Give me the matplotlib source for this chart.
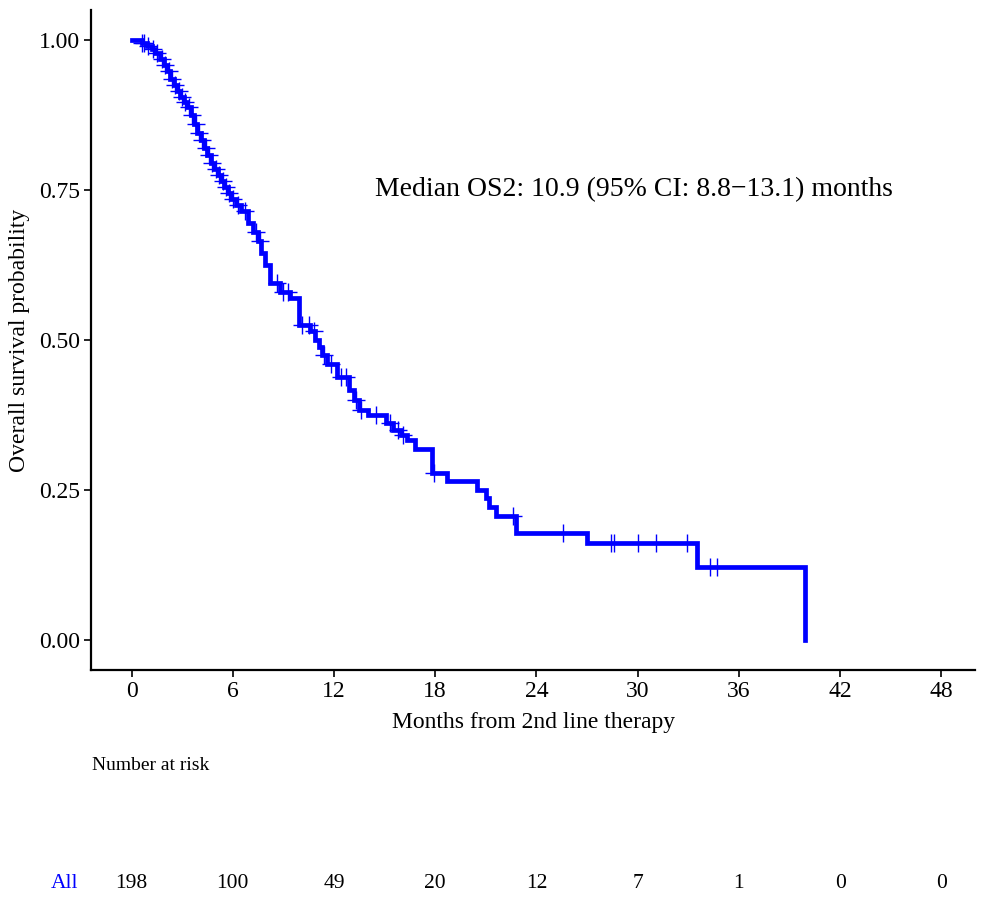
import numpy as np
import matplotlib
matplotlib.use('Agg')
import matplotlib.pyplot as plt

plt.rcParams['font.family'] = ['Liberation Serif', 'DejaVu Serif']

# Kaplan-Meier steps: time of drop, survival after drop
event_times = [0.0, 0.6, 0.9, 1.2, 1.4, 1.7, 1.9, 2.1, 2.3, 2.5, 2.7, 2.9, 3.1, 3.3,
               3.5, 3.7, 3.9, 4.1, 4.3, 4.5, 4.7, 4.9, 5.1, 5.3, 5.5, 5.7, 5.9,
               6.2, 6.5, 6.9, 7.2, 7.5, 7.7, 7.9, 8.2, 8.8, 9.4, 9.9, 10.6, 10.9,
               11.1, 11.3, 11.6, 12.2, 12.9, 13.2, 13.5, 14.0, 15.1, 15.5, 16.0,
               16.3, 16.8, 17.8, 18.7, 20.5, 21.0, 21.2, 21.6, 22.8, 27.0, 33.5,
               39.9]
survival = [1.0, 0.995, 0.99, 0.985, 0.978, 0.968, 0.958, 0.948, 0.935, 0.925, 0.915,
            0.905, 0.897, 0.888, 0.875, 0.86, 0.845, 0.833, 0.82, 0.808, 0.795,
            0.785, 0.775, 0.765, 0.755, 0.745, 0.735, 0.725, 0.715, 0.695, 0.68,
            0.665, 0.645, 0.625, 0.595, 0.58, 0.57, 0.525, 0.515, 0.5, 0.488,
            0.475, 0.46, 0.438, 0.417, 0.4, 0.383, 0.375, 0.362, 0.35, 0.342,
            0.333, 0.318, 0.278, 0.265, 0.25, 0.237, 0.222, 0.207, 0.178, 0.162,
            0.122, 0.0]

# censored observations (months)
censor_times = [0.65, 0.75, 1.0, 1.3, 1.5, 1.8, 2.0, 2.2, 2.4, 2.6, 2.8, 3.0, 3.2,
                3.4, 3.6, 3.8, 4.0, 4.2, 4.4, 4.6, 4.8, 5.0, 5.2, 5.4, 5.6, 5.8,
                6.0, 6.3, 6.7, 7.4, 7.6, 8.6, 9.0, 9.3, 10.1, 10.5, 10.8, 11.4,
                11.8, 12.4, 12.7, 13.3, 13.6, 14.5, 15.3, 15.8, 16.1, 17.9, 22.6,
                25.6, 28.4, 28.6, 30.0, 31.1, 32.9, 34.3, 34.7]

risk_times = [0, 6, 12, 18, 24, 30, 36, 42, 48]
at_risk = [198, 100, 49, 20, 12, 7, 1, 0, 0]

blue = '#0000FF'

fig = plt.figure(figsize=(9.86, 9.0), dpi=100)
ax = fig.add_axes([0.0923, 0.2556, 0.8967, 0.7334])

ax.step(event_times, survival, where='post', color=blue, lw=3.4, solid_joinstyle='miter')

# censor marks on the step function
idx = np.searchsorted(event_times, censor_times, side='right') - 1
censor_surv = np.array(survival)[idx]
ax.plot(censor_times, censor_surv, ls='none', marker='+', ms=13, mew=1.0, color=blue)

ax.set_xlim(-2.4, 50)
ax.set_ylim(-0.05, 1.05)
ax.set_xticks(risk_times)
ax.set_yticks([0, 0.25, 0.5, 0.75, 1.0])
ax.set_yticklabels(['0.00', '0.25', '0.50', '0.75', '1.00'])
for s in ['top', 'right']:
    ax.spines[s].set_visible(False)
for s in ['left', 'bottom']:
    ax.spines[s].set_linewidth(1.6)
ax.tick_params(direction='out', length=5, width=1.2, labelsize=17, pad=3)
ax.set_xlabel('Months from 2nd line therapy', fontsize=17, labelpad=7)
ax.set_ylabel('Overall survival probability', fontsize=17, labelpad=6)

ax.text(29.8, 0.75, 'Median OS2: 10.9 (95% CI: 8.8\u221213.1) months',
        ha='center', va='center', fontsize=20)

# number at risk table
fig.text(92 / 986, 1 - 765 / 900, 'Number at risk', ha='left', va='center', fontsize=14)
trans = matplotlib.transforms.blended_transform_factory(ax.transData, fig.transFigure)
for t, n in zip(risk_times, at_risk):
    ax.text(t, 1 - 883 / 900, str(n), transform=trans, ha='center', va='center',
            fontsize=15.5, clip_on=False)
fig.text(65 / 986, 1 - 883 / 900, 'All', color=blue, ha='center', va='center', fontsize=15.5)

fig.savefig('out.png', dpi=100)
